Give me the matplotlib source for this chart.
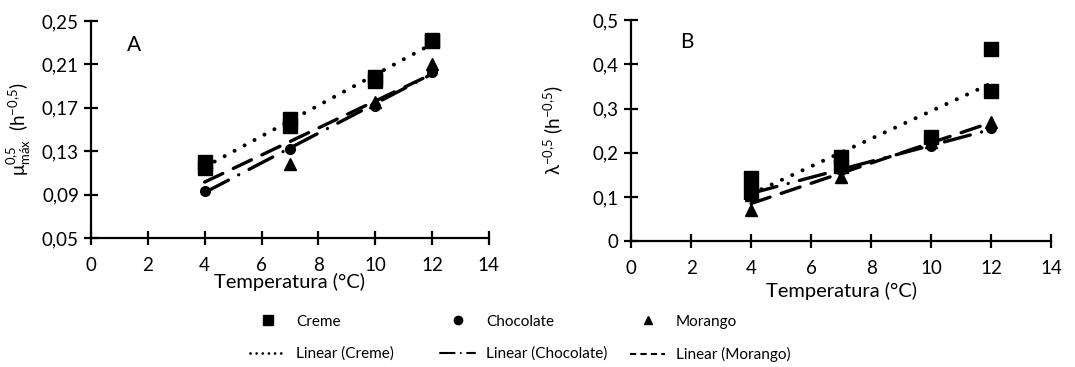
import numpy as np
import matplotlib.pyplot as plt
from matplotlib.ticker import FuncFormatter
from matplotlib.lines import Line2D

plt.rcParams['font.family'] = ['Lato', 'DejaVu Sans']
plt.rcParams['mathtext.fontset'] = 'custom'
plt.rcParams['mathtext.rm'] = 'Lato'
plt.rcParams['mathtext.it'] = 'Lato'

# panel A - mu max ^0.5
creme_x_A = [4, 4, 7, 7, 10, 10, 12, 12]
creme_y_A = [0.120, 0.115, 0.160, 0.153, 0.198, 0.195, 0.233, 0.232]
choc_x_A = [4, 7, 10, 12]
choc_y_A = [0.093, 0.132, 0.172, 0.203]
mor_x_A = [4, 7, 10, 12]
mor_y_A = [0.115, 0.118, 0.175, 0.210]

# panel B - lambda ^-0.5
creme_x_B = [4, 4, 7, 7, 10, 12, 12]
creme_y_B = [0.142, 0.112, 0.190, 0.170, 0.235, 0.434, 0.340]
choc_x_B = [4, 7, 10, 12]
choc_y_B = [0.110, 0.160, 0.215, 0.255]
mor_x_B = [4, 4, 7, 10, 12]
mor_y_B = [0.070, 0.105, 0.145, 0.225, 0.270]

xticks = [0, 2, 4, 6, 8, 10, 12, 14]
yticks_A = [0.05, 0.09, 0.13, 0.17, 0.21, 0.25]
yticks_B = [0, 0.1, 0.2, 0.3, 0.4, 0.5]

DOT = (0, (0.01, 2.8))
DASHDOT = (0, (8, 3.5, 0.01, 3.5))
DASH = (0, (6, 3.5))


def comma(v, pos):
    s = ('%.2f' % v) if abs(v*10 - round(v*10)) > 1e-6 else ('%g' % v)
    return s.replace('.', ',')


def trend(ax, x, y, ls, lw):
    k, b = np.polyfit(x, y, 1)
    xs = np.array([min(x), max(x)])
    ax.plot(xs, k*xs + b, color='black', linestyle=ls, lw=lw, zorder=3,
            dash_capstyle='round')


def panel(ax, cx, cy, hx, hy, mx, my, yticks, ylabel, letter, lpos):
    ax.plot(cx, cy, 's', color='black', ms=9.5, zorder=2)
    ax.plot(hx, hy, 'o', color='black', ms=7, zorder=2)
    ax.plot(mx, my, '^', color='black', ms=8.5, zorder=2)
    trend(ax, cx, cy, DOT, 2.9)
    trend(ax, hx, hy, DASHDOT, 2.4)
    trend(ax, mx, my, DASH, 2.4)
    for s in ['top', 'right']:
        ax.spines[s].set_visible(False)
    for s in ['left', 'bottom']:
        ax.spines[s].set_linewidth(1.6)
    ax.set_xlim(0, 14)
    ax.set_ylim(yticks[0], yticks[-1])
    ax.set_xticks(xticks)
    ax.set_yticks(yticks)
    ax.yaxis.set_major_formatter(FuncFormatter(comma))
    ax.tick_params(direction='inout', length=9.5, width=1.6, labelsize=13.5, pad=4)
    ax.tick_params(axis='x', pad=9)
    ax.set_xlabel('Temperatura (°C)', fontsize=14.5)
    ax.set_ylabel(ylabel, fontsize=13.5)
    ax.text(lpos[0], lpos[1], letter, fontsize=15, ha='center', va='center')


fig = plt.figure(figsize=(10.75, 3.67), dpi=100)
axA = fig.add_axes([0.0847, 0.3515, 0.370, 0.591])
axB = fig.add_axes([0.587, 0.343, 0.391, 0.602])

panel(axA, creme_x_A, creme_y_A, choc_x_A, choc_y_A, mor_x_A, mor_y_A, yticks_A,
      r'μ$_{\mathrm{máx}}^{\mathrm{0{,}5}}$  (h$^{\mathrm{-0{,}5}}$)', 'A', (1.5, 0.228))
panel(axB, creme_x_B, creme_y_B, choc_x_B, choc_y_B, mor_x_B, mor_y_B, yticks_B,
      r'λ$^{\mathrm{-0{,}5}}$ (h$^{\mathrm{-0{,}5}}$)', 'B', (1.87, 0.45))
axA.yaxis.set_label_coords(-0.146, 0.5)
axB.yaxis.set_label_coords(-0.157, 0.5)
axA.xaxis.set_label_coords(0.5, -0.162)
axB.xaxis.set_label_coords(0.5, -0.185)

# legend: three fixed-width columns like Excel
cols = [
    (0.2326, [Line2D([], [], marker='s', color='black', ls='none', ms=7),
              Line2D([], [], color='black', lw=2, ls=(0, (0.01, 2.2)), dash_capstyle='round')],
     ['Creme', 'Linear (Creme)']),
    (0.4093, [Line2D([], [], marker='o', color='black', ls='none', ms=6),
              Line2D([], [], color='black', lw=1.5, ls=(0, (7, 3, 0.01, 3)), dash_capstyle='round')],
     ['Chocolate', 'Linear (Chocolate)']),
    (0.5860, [Line2D([], [], marker='^', color='black', ls='none', ms=6),
              Line2D([], [], color='black', lw=1.5, ls=(0, (3, 2)))],
     ['Morango', 'Linear (Morango)']),
]
for x0, hs, ls in cols:
    fig.legend(hs, ls, loc='upper left', bbox_to_anchor=(x0, 0.143), frameon=False,
               fontsize=11, handlelength=2.3, handletextpad=0.7, labelspacing=1.2,
               borderpad=0, borderaxespad=0)

plt.savefig('out.png', dpi=100)
